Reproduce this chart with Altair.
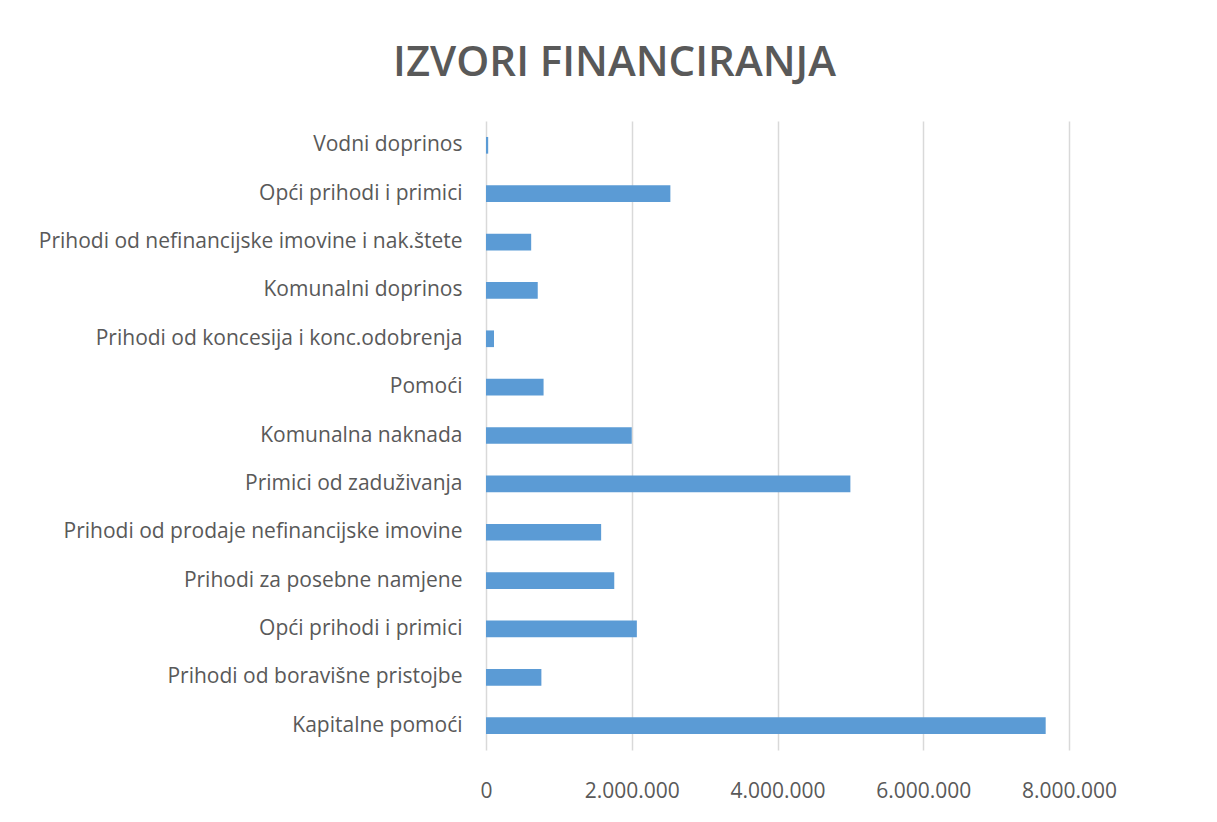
import altair as alt
import pandas as pd

title_text = "IZVORI FINANCIRANJA"

categories = [
    "Vodni doprinos",
    "Opći prihodi i primici",
    "Prihodi od nefinancijske imovine i nak.štete",
    "Komunalni doprinos",
    "Prihodi od koncesija i konc.odobrenja",
    "Pomoći",
    "Komunalna naknada",
    "Primici od zaduživanja",
    "Prihodi od prodaje nefinancijske imovine",
    "Prihodi za posebne namjene",
    "Opći prihodi i primici",
    "Prihodi od boravišne pristojbe",
    "Kapitalne pomoći",
]

values = [
    30000,
    2530000,
    620000,
    710000,
    110000,
    790000,
    2000000,
    5000000,
    1580000,
    1760000,
    2070000,
    760000,
    7680000,
]

x_ticks = [0, 2000000, 4000000, 6000000, 8000000]

keys = [f"{i:02d}|{c}" for i, c in enumerate(categories)]
df = pd.DataFrame({"key": keys, "value": values})

FONT = "Open Sans"
GRAY = "#595959"

chart = (
    alt.Chart(df)
    .mark_bar(color="#5B9BD5")
    .encode(
        x=alt.X(
            "value:Q",
            scale=alt.Scale(domain=[0, 8000000], nice=False),
            axis=alt.Axis(
                values=x_ticks,
                format=",d",
                title=None,
                ticks=False,
                domain=False,
                grid=True,
                gridColor="#d9d9d9",
                gridWidth=1.5,
                labelFlush=False,
                labelFont=FONT,
                labelFontSize=21,
                labelColor=GRAY,
                labelPadding=30,
            ),
        ),
        y=alt.Y(
            "key:N",
            sort=keys,
            scale=alt.Scale(paddingInner=0.655, paddingOuter=0.33),
            axis=alt.Axis(
                title=None,
                ticks=False,
                domain=False,
                labelExpr="substring(datum.value, 3)",
                labelFont=FONT,
                labelFontSize=21,
                labelColor=GRAY,
                labelPadding=24,
                labelLimit=600,
            ),
        ),
    )
    .properties(
        width=583,
        height=629,
        padding={"left": 478, "top": 113, "right": 140, "bottom": 60},
        autosize=alt.AutoSizeParams(type="none"),
        title=alt.TitleParams(
            title_text,
            font=FONT,
            fontSize=42,
            fontWeight=600,
            color=GRAY,
            anchor="middle",
            dx=-163,
            offset=36,
        ),
    )
    .configure(
        background="white",
        locale={"number": {"decimal": ",", "thousands": ".", "grouping": [3], "currency": ["", ""]}},
    )
    .configure_view(stroke=None)
)

chart.save("out.html", embed_options={"renderer": "svg", "actions": False})
